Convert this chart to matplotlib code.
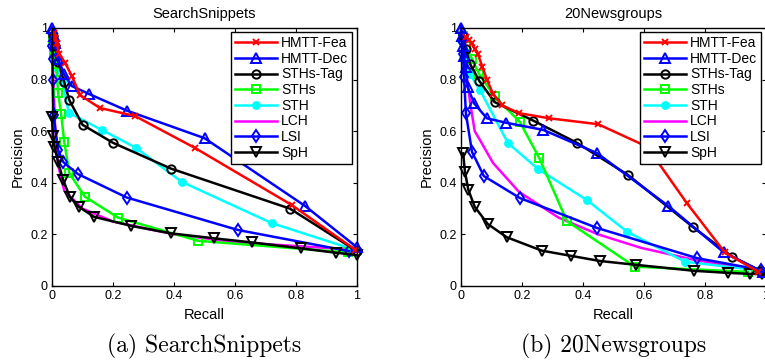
import matplotlib
matplotlib.use("Agg")
import matplotlib.pyplot as plt

# ---- SearchSnippets ----
ss_fea_r = [0.005, 0.01, 0.015, 0.024, 0.043, 0.065, 0.092, 0.157, 0.272, 0.469, 0.786, 0.995]
ss_fea_p = [0.98, 0.96, 0.94, 0.90, 0.865, 0.814, 0.74, 0.69, 0.659, 0.535, 0.314, 0.14]
ss_dec_r = [0.0, 0.005, 0.01, 0.02, 0.04, 0.065, 0.12, 0.245, 0.5, 0.83, 1.0]
ss_dec_p = [1.0, 0.97, 0.94, 0.88, 0.82, 0.775, 0.745, 0.68, 0.573, 0.31, 0.15]
ss_tag_r = [0.003, 0.01, 0.02, 0.04, 0.057, 0.1, 0.2, 0.39, 0.78, 1.0]
ss_tag_p = [0.97, 0.93, 0.87, 0.79, 0.72, 0.625, 0.555, 0.455, 0.30, 0.135]
ss_sths_r = [0.002, 0.008, 0.015, 0.02, 0.03, 0.04, 0.057, 0.108, 0.217, 0.48, 0.97]
ss_sths_p = [0.95, 0.90, 0.83, 0.75, 0.665, 0.56, 0.437, 0.346, 0.265, 0.175, 0.13]
ss_sth_r = [0.003, 0.01, 0.02, 0.033, 0.055, 0.163, 0.275, 0.425, 0.72, 0.98]
ss_sth_p = [0.96, 0.90, 0.84, 0.795, 0.672, 0.605, 0.536, 0.404, 0.244, 0.145]
ss_lch_r = [0.003, 0.01, 0.02, 0.04, 0.1, 0.2, 0.4, 0.6, 0.8, 1.0]
ss_lch_p = [0.85, 0.62, 0.47, 0.37, 0.30, 0.25, 0.20, 0.17, 0.155, 0.14]
ss_lsi_r = [0.0, 0.0, 0.002, 0.002, 0.005, 0.02, 0.037, 0.085, 0.245, 0.61, 0.975]
ss_lsi_p = [0.98, 0.93, 0.88, 0.80, 0.663, 0.527, 0.48, 0.434, 0.343, 0.217, 0.135]
ss_sph_r = [0.0, 0.003, 0.008, 0.02, 0.037, 0.058, 0.088, 0.138, 0.26, 0.39, 0.53, 0.655, 0.815, 0.93, 1.0]
ss_sph_p = [0.655, 0.58, 0.54, 0.48, 0.41, 0.346, 0.307, 0.268, 0.233, 0.204, 0.185, 0.169, 0.146, 0.129, 0.12]

# ---- 20Newsgroups ----
ng_fea_r = [0.015, 0.025, 0.035, 0.045, 0.055, 0.07, 0.085, 0.105, 0.135, 0.19, 0.29, 0.45, 0.61, 0.74, 0.865, 0.975]
ng_fea_p = [0.965, 0.955, 0.94, 0.92, 0.90, 0.85, 0.80, 0.745, 0.70, 0.67, 0.65, 0.627, 0.54, 0.322, 0.13, 0.055]
ng_dec_r = [0.0, 0.003, 0.006, 0.01, 0.015, 0.022, 0.043, 0.085, 0.147, 0.27, 0.446, 0.68, 0.862, 0.99]
ng_dec_p = [1.0, 0.97, 0.93, 0.89, 0.85, 0.77, 0.708, 0.65, 0.633, 0.605, 0.515, 0.31, 0.13, 0.054]
ng_tag_r = [0.005, 0.015, 0.03, 0.06, 0.11, 0.237, 0.38, 0.548, 0.76, 0.89, 0.98]
ng_tag_p = [0.97, 0.92, 0.86, 0.795, 0.713, 0.641, 0.555, 0.43, 0.229, 0.113, 0.06]
ng_sths_r = [0.005, 0.015, 0.036, 0.06, 0.11, 0.193, 0.257, 0.347, 0.57, 0.94]
ng_sths_p = [0.97, 0.93, 0.88, 0.82, 0.735, 0.636, 0.495, 0.252, 0.075, 0.055]
ng_sth_r = [0.003, 0.012, 0.03, 0.062, 0.154, 0.253, 0.413, 0.545, 0.735, 0.98]
ng_sth_p = [0.95, 0.89, 0.82, 0.76, 0.554, 0.453, 0.333, 0.21, 0.094, 0.06]
ng_lch_r = [0.01, 0.02, 0.03, 0.045, 0.062, 0.105, 0.19, 0.32, 0.45, 0.59, 0.77, 0.98]
ng_lch_p = [0.87, 0.80, 0.71, 0.60, 0.566, 0.477, 0.365, 0.265, 0.20, 0.148, 0.10, 0.06]
ng_lsi_r = [0.0, 0.003, 0.006, 0.01, 0.016, 0.036, 0.075, 0.193, 0.446, 0.774, 0.985]
ng_lsi_p = [0.99, 0.95, 0.90, 0.81, 0.67, 0.52, 0.426, 0.341, 0.225, 0.108, 0.062]
ng_sph_r = [0.007, 0.013, 0.024, 0.045, 0.088, 0.15, 0.265, 0.36, 0.455, 0.574, 0.763, 0.874, 0.947, 0.987]
ng_sph_p = [0.514, 0.443, 0.373, 0.307, 0.24, 0.189, 0.137, 0.117, 0.097, 0.082, 0.059, 0.051, 0.047, 0.047]

method_names = ["HMTT-Fea", "HMTT-Dec", "STHs-Tag", "STHs", "STH", "LCH", "LSI", "SpH"]
ticks = [0, 0.2, 0.4, 0.6, 0.8, 1.0]
tick_labels = ["0", "0.2", "0.4", "0.6", "0.8", "1"]

# style per method: color, marker, marker size, filled?
styles = {
    "HMTT-Fea": ("#ff0000", "x", 4.5, False),
    "HMTT-Dec": ("#0000ff", "^", 7, False),
    "STHs-Tag": ("#000000", "o", 6, False),
    "STHs":     ("#00ff00", "s", 5.5, False),
    "STH":      ("#00ffff", "o", 5, True),
    "LCH":      ("#ff00ff", "", 0, False),
    "LSI":      ("#0000ff", "d", 6.5, False),
    "SpH":      ("#000000", "v", 7, False),
}
# draw order (bottom -> top)
draw_order = ["LCH", "STH", "STHs", "LSI", "STHs-Tag", "SpH", "HMTT-Dec", "HMTT-Fea"]

plt.rcParams['font.family'] = ['Liberation Sans', 'DejaVu Sans']

fig = plt.figure(figsize=(7.65, 3.62), dpi=100)
ax1 = fig.add_axes([52 / 765, 76 / 362, 305 / 765, 258 / 362])
ax2 = fig.add_axes([461 / 765, 76 / 362, 305 / 765, 258 / 362])

panels = [
    (ax1, "SearchSnippets", "(a) SearchSnippets", {
        "HMTT-Fea": (ss_fea_r, ss_fea_p), "HMTT-Dec": (ss_dec_r, ss_dec_p),
        "STHs-Tag": (ss_tag_r, ss_tag_p), "STHs": (ss_sths_r, ss_sths_p),
        "STH": (ss_sth_r, ss_sth_p), "LCH": (ss_lch_r, ss_lch_p),
        "LSI": (ss_lsi_r, ss_lsi_p), "SpH": (ss_sph_r, ss_sph_p)}),
    (ax2, "20Newsgroups", "(b) 20Newsgroups", {
        "HMTT-Fea": (ng_fea_r, ng_fea_p), "HMTT-Dec": (ng_dec_r, ng_dec_p),
        "STHs-Tag": (ng_tag_r, ng_tag_p), "STHs": (ng_sths_r, ng_sths_p),
        "STH": (ng_sth_r, ng_sth_p), "LCH": (ng_lch_r, ng_lch_p),
        "LSI": (ng_lsi_r, ng_lsi_p), "SpH": (ng_sph_r, ng_sph_p)}),
]

for ax, title, caption, series in panels:
    handles = {}
    for name in draw_order:
        r, p = series[name]
        color, marker, ms, filled = styles[name]
        line, = ax.plot(r, p, color=color, lw=1.8, marker=marker if marker else None,
                        ms=ms, mew=1.4, mfc=color if filled else 'none', mec=color,
                        label=name, clip_on=False)
        handles[name] = line
    ax.set_xlim(0, 1)
    ax.set_ylim(0, 1)
    ax.set_xticks(ticks)
    ax.set_xticklabels(tick_labels)
    ax.set_yticks(ticks)
    ax.set_yticklabels(tick_labels)
    ax.tick_params(direction='in', top=True, right=True, length=3, labelsize=9, pad=3)
    for sp in ax.spines.values():
        sp.set_linewidth(1.0)
    ax.set_title(title, fontsize=10.5, pad=7)
    ax.set_xlabel("Recall", fontsize=10.5)
    ax.set_ylabel("Precision", fontsize=10.5)
    ax.xaxis.set_label_coords(0.5, -0.085)
    ax.yaxis.set_label_coords(-0.09, 0.5)
    leg = ax.legend([handles[n] for n in method_names], method_names,
                    loc='upper right', bbox_to_anchor=(0.985, 0.985),
                    fontsize=10, frameon=True, fancybox=False, framealpha=1,
                    edgecolor='black', handlelength=3.0, handletextpad=0.3,
                    labelspacing=0.12, borderpad=0.3, borderaxespad=0.0)
    leg.get_frame().set_linewidth(1.0)
    pos = ax.get_position()
    fig.text(pos.x0 + pos.width / 2, 1 - 346 / 362, caption, ha='center', va='center',
             fontsize=17, family='cmr10')

fig.savefig("out.png", dpi=100)
